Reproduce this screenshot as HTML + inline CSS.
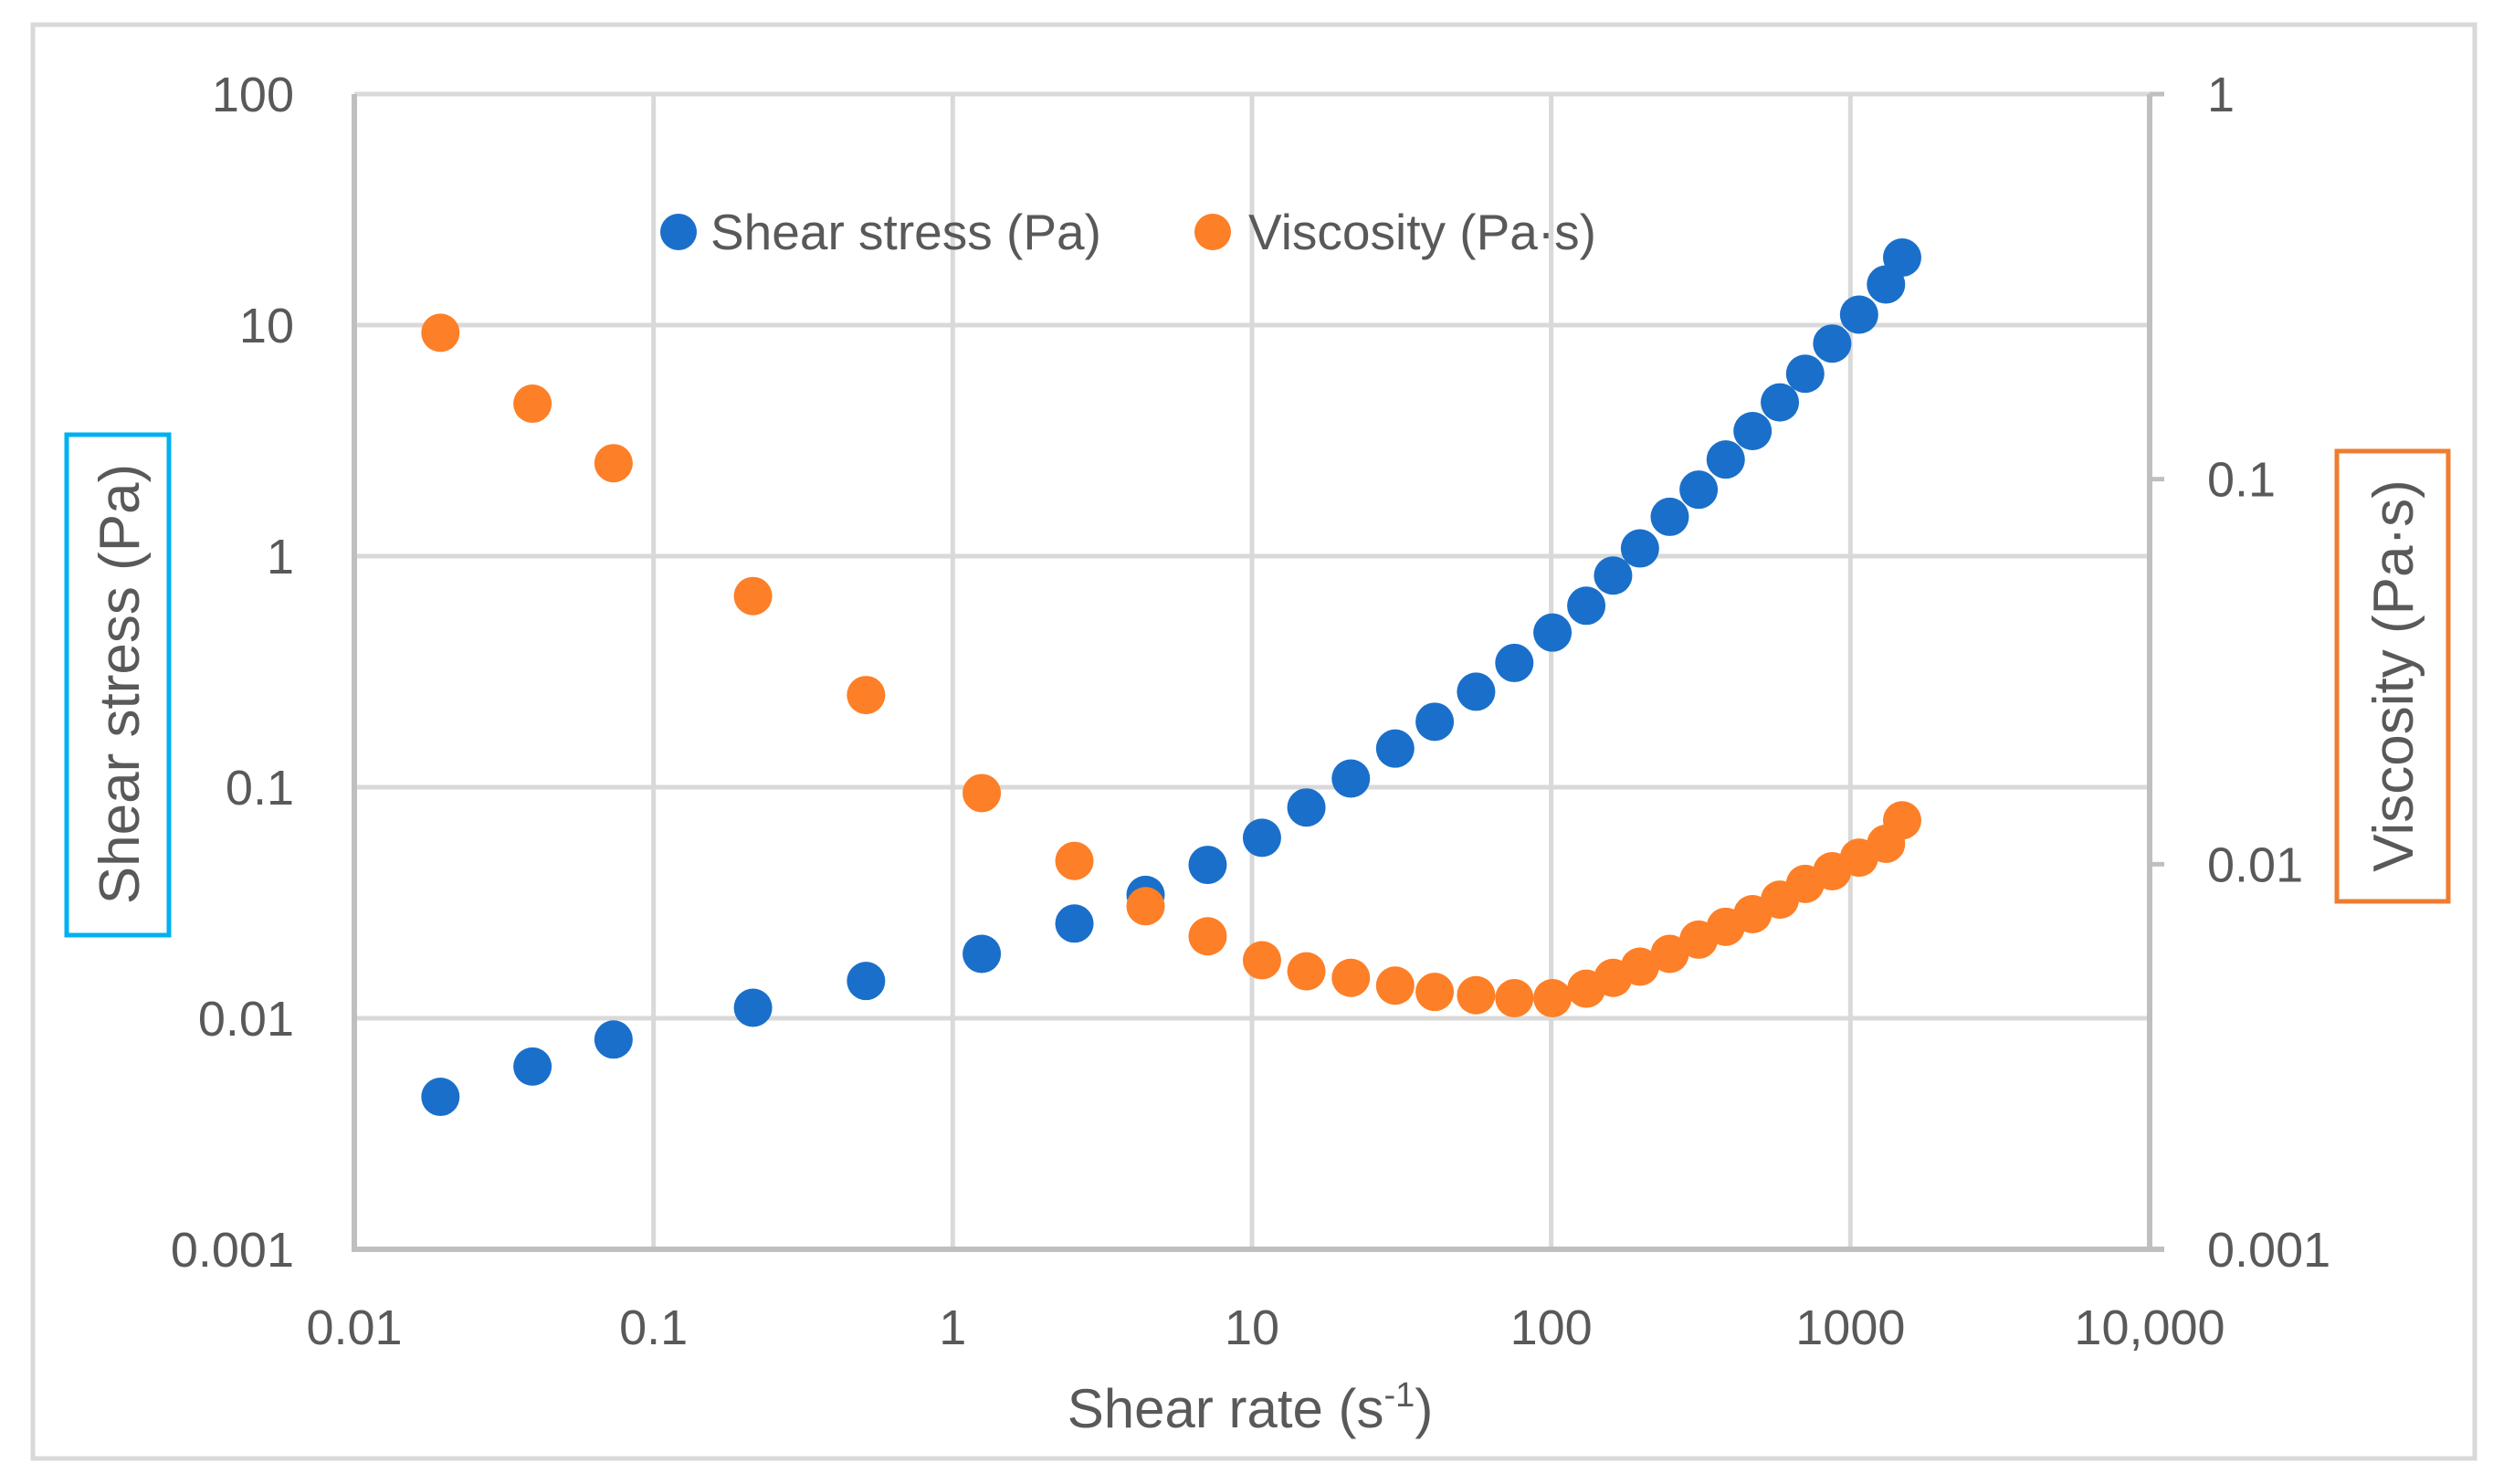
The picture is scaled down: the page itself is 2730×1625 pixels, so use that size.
<!DOCTYPE html>
<html><head><meta charset="utf-8"><style>
html,body{margin:0;padding:0;background:#fff;}
svg{display:block;font-family:"Liberation Sans",sans-serif;}
</style></head><body>
<svg id="chart" width="2730" height="1625" viewBox="0 0 2730 1625" xmlns="http://www.w3.org/2000/svg">
<rect x="0" y="0" width="2730" height="1625" fill="#fff"/>
<rect x="36" y="27" width="2674" height="1570" fill="none" stroke="#d9d9d9" stroke-width="5"/>
<g id="grid"></g>
<g id="axes"></g>
<g id="ticks"></g>
<g id="marks"></g>
<g>
  <circle cx="743" cy="254" r="20" fill="#1a6fca"/>
  <text x="778" y="273" font-size="55" fill="#595959">Shear stress (Pa)</text>
  <circle cx="1328" cy="254" r="20" fill="#fd7f27"/>
  <text x="1367" y="273" font-size="55" fill="#595959">Viscosity (Pa·s)</text>
</g>
<text x="1369" y="1563" font-size="60" fill="#595959" text-anchor="middle">Shear rate (s<tspan font-size="38" dy="-23">-1</tspan><tspan dy="23">)</tspan></text>
<rect x="73" y="476" width="112" height="548" fill="none" stroke="#00b0f0" stroke-width="5"/>
<text transform="translate(152,749) rotate(-90)" font-size="62" fill="#595959" text-anchor="middle">Shear stress (Pa)</text>
<rect x="2559" y="494" width="122" height="493" fill="none" stroke="#ed7d31" stroke-width="5"/>
<text transform="translate(2642,740) rotate(-90)" font-size="62" fill="#595959" text-anchor="middle">Viscosity (Pa·s)</text>
</svg>
<script>
const shearRate = [0.0194,0.0394,0.0735,0.215,0.513,1.25,2.55,4.41,7.11,10.8,15.2,21.4,30.1,40.8,56.1,75.3,101,131,161,198,249,311,383,471,581,706,869,1069,1315,1489];
const shearStress = [0.00457,0.00618,0.00809,0.0111,0.0145,0.0190,0.0257,0.0342,0.0461,0.0604,0.0817,0.109,0.147,0.192,0.259,0.345,0.467,0.610,0.824,1.08,1.48,1.94,2.62,3.48,4.63,6.16,8.32,11.1,15.0,19.6];
const viscosity = [0.240,0.157,0.110,0.0497,0.0275,0.0153,0.0102,0.00778,0.00650,0.00563,0.00527,0.00507,0.00484,0.00466,0.00457,0.00449,0.00449,0.00475,0.00507,0.00542,0.00585,0.00637,0.00688,0.00742,0.00809,0.00889,0.00959,0.0104,0.0113,0.0130];
const xTicks = [0.01,0.1,1,10,100,1000,10000];
const xTickLabels = ["0.01","0.1","1","10","100","1000","10,000"];
const yLeftTicks = [0.001,0.01,0.1,1,10,100];
const yLeftLabels = ["0.001","0.01","0.1","1","10","100"];
const yRightTicks = [0.001,0.01,0.1,1];
const yRightLabels = ["0.001","0.01","0.1","1"];

const X0=388,X1=2354,Y0=103,Y1=1368;
const NS="http://www.w3.org/2000/svg";
function xs(v){return X0+(Math.log10(v)+2)/6*(X1-X0);}
function yl(v){return Y1-(Math.log10(v)+3)/5*(Y1-Y0);}
function yr(v){return Y1-(Math.log10(v)+3)/3*(Y1-Y0);}
function mk(tag,attrs,parent){const e=document.createElementNS(NS,tag);for(const k in attrs)e.setAttribute(k,attrs[k]);parent.appendChild(e);return e;}
const grid=document.getElementById('grid'),axes=document.getElementById('axes'),ticks=document.getElementById('ticks'),marks=document.getElementById('marks');

xTicks.forEach((t,i)=>{
  const x=xs(t);
  if(i>0&&i<xTicks.length-1){
    const l=mk('line',{x1:x,x2:x,y1:Y0,y2:Y1,stroke:'#d9d9d9','stroke-width':5},grid);
    
    
  }
  const tx=mk('text',{x:x,y:1472,'font-size':54,fill:'#595959','text-anchor':'middle'},ticks);
  tx.textContent=xTickLabels[i];
  
  
});
yLeftTicks.forEach((t,i)=>{
  const y=yl(t);
  if(i>0){
    const l=mk('line',{x1:X0,x2:X1,y1:y,y2:y,stroke:'#d9d9d9','stroke-width':5},grid);
    
    
  }
  const tx=mk('text',{x:322,y:y+19,'font-size':54,fill:'#595959','text-anchor':'end'},ticks);
  tx.textContent=yLeftLabels[i];
  
  
});
yRightTicks.forEach((t,i)=>{
  const y=yr(t);
  const tk=mk('line',{x1:X1,x2:X1+16,y1:y,y2:y,stroke:'#bfbfbf','stroke-width':5},axes);
  
  
  const tx=mk('text',{x:2417,y:y+19,'font-size':54,fill:'#595959','text-anchor':'start'},ticks);
  tx.textContent=yRightLabels[i];
  
  
});
const la=mk('line',{x1:X0,x2:X0,y1:Y0,y2:Y1,stroke:'#bfbfbf','stroke-width':6},axes);


const ra=mk('line',{x1:X1,x2:X1,y1:Y0,y2:Y1,stroke:'#bfbfbf','stroke-width':6},axes);


const ba=mk('line',{x1:X0-3,x2:X1+16,y1:Y1,y2:Y1,stroke:'#bfbfbf','stroke-width':6},axes);



shearRate.forEach((r,i)=>{
  const c=mk('circle',{cx:xs(r),cy:yl(shearStress[i]),r:21,fill:'#1a6fca'},marks);
  
  
});
shearRate.forEach((r,i)=>{
  const c=mk('circle',{cx:xs(r),cy:yr(viscosity[i]),r:21,fill:'#fd7f27'},marks);
  
  
});
</script>
</body></html>
